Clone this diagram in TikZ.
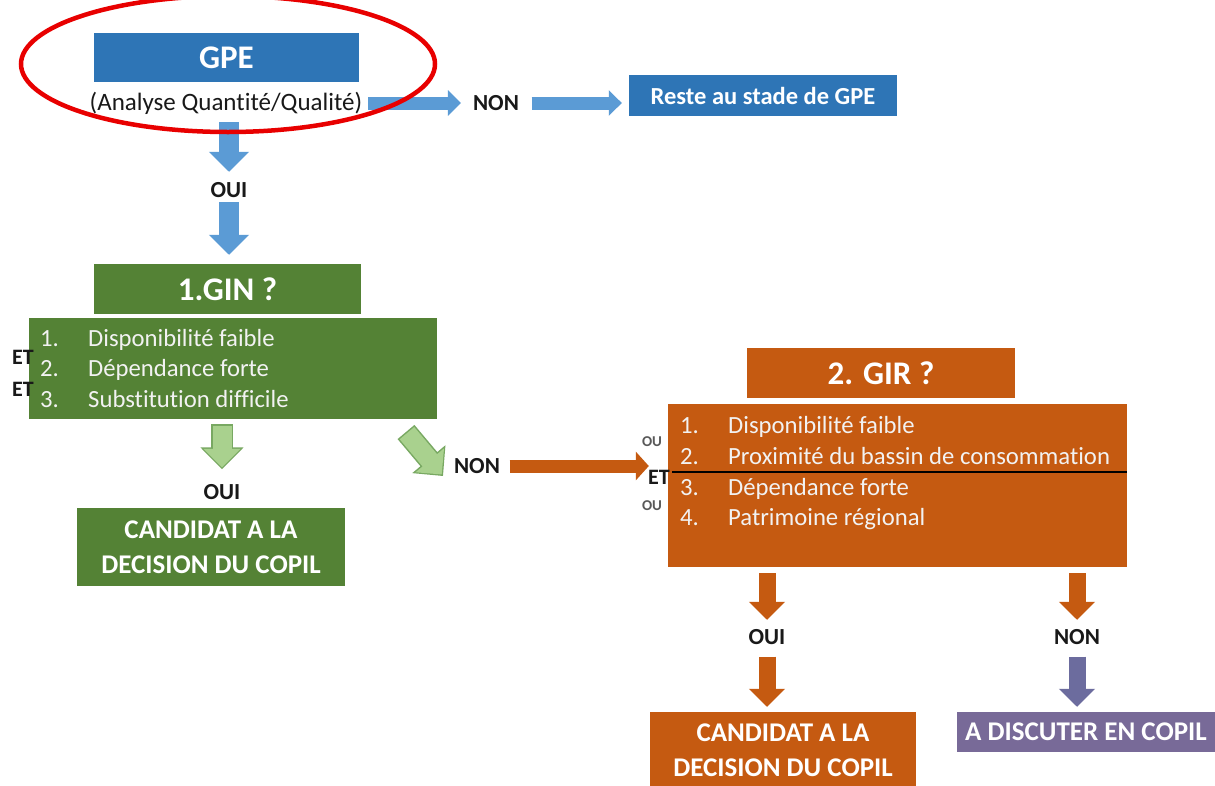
\documentclass[tikz,border=0pt]{standalone}
\usepackage{fontspec}
\setmainfont{Carlito}[Ligatures=NoCommon]
\usetikzlibrary{arrows.meta}
\definecolor{boxblue}{RGB}{46,117,182}
\definecolor{arrowblue}{RGB}{91,155,213}
\definecolor{boxgreen}{RGB}{84,130,53}
\definecolor{lightgreen}{RGB}{169,209,142}
\definecolor{lgline}{RGB}{120,168,98}
\definecolor{boxorange}{RGB}{197,90,17}
\definecolor{boxpurple}{RGB}{120,106,152}
\definecolor{arrowpurple}{RGB}{108,108,158}
\definecolor{txt}{RGB}{25,25,25}
\definecolor{ringred}{RGB}{232,0,0}
\begin{document}
\begin{tikzpicture}[x=1pt,y=-1pt,
  box/.style={rectangle, inner sep=0pt, text=white, align=center},
  headfont/.style={font=\bfseries\fontsize{33}{38}\selectfont},
  midfont/.style={font=\bfseries\fontsize{27}{35}\selectfont},
  smallbox/.style={font=\bfseries\fontsize{24.5}{29}\selectfont},
  lbl/.style={font=\bfseries\fontsize{23}{28}\selectfont, text=txt, inner sep=0pt, text height=15pt, text depth=0pt},
  etlbl/.style={font=\bfseries\fontsize{22}{26}\selectfont, text=txt, inner sep=0pt, text height=15pt, text depth=0pt},
  oulbl/.style={font=\bfseries\fontsize{15}{17}\selectfont, text=black!65, inner sep=0pt, text height=10pt, text depth=0pt},
  item/.style={font=\fontsize{24.7}{29}\selectfont, text=white!95!black, inner sep=0pt, anchor=base west},
  vblue/.style={draw=arrowblue, line width=20pt, -{Triangle[length=20pt,width=39pt]}},
  hblue/.style={draw=arrowblue, line width=13pt, -{Triangle[length=13pt,width=25pt]}},
  horange/.style={draw=boxorange, line width=13pt, -{Triangle[length=13pt,width=28pt]}},
  vorange/.style={draw=#1, line width=17pt, -{Triangle[length=18pt,width=35pt]}},
  lgout/.style={draw=lgline, line width=22pt, -{Triangle[length=22pt,width=42pt]}},
  lgin/.style={draw=lightgreen, line width=19pt, -{Triangle[length=18.5pt,width=36pt]}},
]
\useasboundingbox[fill=white] (0,0) rectangle (1215,785);

% ---------- GPE ----------
\node[box, fill=boxblue, headfont, minimum width=265pt, minimum height=49pt] (gpe) at (226.5,57.5) {GPE};
\node[font=\fontsize{25}{30}\selectfont, text=txt, inner sep=0pt, text height=18pt, text depth=5pt] (analyse) at (226,103.5) {(Analyse Quantité/Qualité)};
\node[lbl] (non1) at (496,103) {NON};
\node[box, fill=boxblue, smallbox, minimum width=268pt, minimum height=41pt] (reste) at (763,95.5) {Reste au stade de GPE};
\node[lbl] (oui1) at (229,190) {OUI};

\draw[hblue, shorten <=6pt, shorten >=12pt] (analyse.east |- non1.west) -- (non1.west);
\draw[hblue, shorten <=12.5pt, shorten >=7pt] (non1.east) -- (reste.west |- non1.east);
\draw[vblue, shorten <=7pt, shorten >=10.5pt] (oui1.north |- analyse.south) -- (oui1.north);

% ---------- GIN ----------
\node[box, fill=boxgreen, headfont, minimum width=267pt, minimum height=50pt] (gin) at (227.5,289) {1.GIN ?};
\draw[vblue, shorten <=4.5pt, shorten >=9pt] (oui1.south) -- (oui1.south |- gin.north);

\node[box, fill=boxgreen, minimum width=408pt, minimum height=101pt] (ginlist) at (233,368.5) {};
\node[item] (g1n) at (40,346) {1.};
\node[item] (g1t) at (88,346) {Disponibilité faible};
\node[item] (g2n) at (40,376) {2.};
\node[item] (g2t) at (88,376) {Dépendance forte};
\node[item] (g3n) at (40,407) {3.};
\node[item] (g3t) at (88,407) {Substitution difficile};
\node[etlbl] (et1) at (23,357) {ET};
\node[etlbl] (et2) at (23,389) {ET};

\node[lbl] (oui2) at (222,492) {OUI};
\draw[lgout, shorten <=5pt, shorten >=15pt] (oui2.north |- ginlist.south) -- (oui2.north);
\draw[lgin, shorten <=6.5pt, shorten >=17pt] (oui2.north |- ginlist.south) -- (oui2.north);

\node[box, fill=boxgreen, midfont, minimum width=268pt, minimum height=78pt] (cand1) at (211,547) {CANDIDAT A LA\\DECISION DU COPIL};

\coordinate (d1) at (406,432);
\coordinate (d2) at (443,476);
\draw[lgout] (d1) -- (d2);
\draw[lgin, shorten <=1.5pt, shorten >=2pt] (d1) -- (d2);

\node[lbl] (non2) at (477,466) {NON};

% ---------- GIR ----------
\node[box, fill=boxorange, headfont, minimum width=268pt, minimum height=50pt] (gir) at (881,373) {2. GIR ?};
\node[box, fill=boxorange, minimum width=459pt, minimum height=163pt] (girlist) at (897.5,485.5) {};
\node[item] (r1n) at (680,433) {1.};
\node[item] (r1t) at (728,433) {Disponibilité faible};
\node[item] (r2n) at (680,464) {2.};
\node[item] (r2t) at (728,464) {Proximité du bassin de consommation};
\node[item] (r3n) at (680,495) {3.};
\node[item] (r3t) at (728,495) {Dépendance forte};
\node[item] (r4n) at (680,525) {4.};
\node[item] (r4t) at (728,525) {Patrimoine régional};
\coordinate (sepL) at (672,472);
\draw[black, line width=1.6pt] (sepL) -- (sepL -| girlist.east);

\node[oulbl] (ou1) at (652,441) {OU};
\node[etlbl] (et3) at (659,477) {ET};
\node[oulbl] (ou2) at (652,505) {OU};

\draw[horange, shorten <=9.5pt, shorten >=19pt] (non2.east) -- (girlist.west |- non2.east);

% ---------- bottom right ----------
\node[lbl] (oui3) at (767,637) {OUI};
\node[lbl] (non3) at (1077,637) {NON};
\node[box, fill=boxorange, midfont, minimum width=266pt, minimum height=76pt] (cand2) at (783,750) {CANDIDAT A LA\\DECISION DU COPIL};
\node[box, fill=boxpurple, midfont, minimum width=258pt, minimum height=40pt] (disc) at (1086,732) {A DISCUTER EN COPIL};

\draw[vorange=boxorange, shorten <=6pt, shorten >=9.5pt] (oui3.north |- girlist.south) -- (oui3.north);
\draw[vorange=boxorange, shorten <=12pt, shorten >=5pt] (oui3.south) -- (oui3.south |- cand2.north);
\draw[vorange=boxorange, shorten <=6pt, shorten >=9.5pt] (non3.north |- girlist.south) -- (non3.north);
\draw[vorange=arrowpurple, shorten <=12pt, shorten >=5pt] (non3.south) -- (non3.south |- disc.north);

% ---------- red ring ----------
\draw[ringred, line width=4.5pt] (228,64) ellipse [x radius=207pt, y radius=68pt];
\end{tikzpicture}
\end{document}
